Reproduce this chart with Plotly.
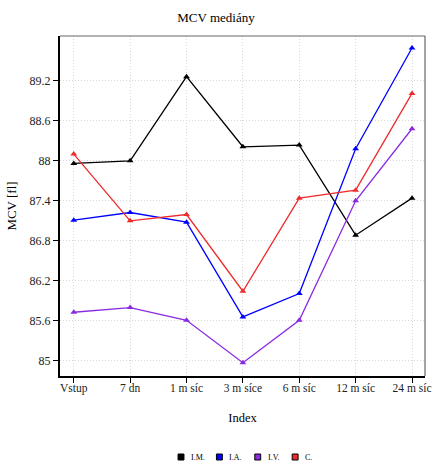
import plotly.graph_objects as go

categories = ["Vstup", "7 dn", "1 m síc", "3 m síce", "6 m síc", "12 m síc", "24 m síc"]
series_names = ["I.M.", "I.A.", "I.V.", "C."]
im_values = [87.96, 88.00, 89.26, 88.21, 88.235, 86.885, 87.44]
ia_values = [87.11, 87.225, 87.08, 85.66, 86.01, 88.18, 89.69]
iv_values = [85.73, 85.80, 85.61, 84.975, 85.61, 87.40, 88.48]
c_values = [88.10, 87.10, 87.195, 86.045, 87.44, 87.56, 89.01]
y_ticks = [85, 85.6, 86.2, 86.8, 87.4, 88, 88.6, 89.2]
y_tick_labels = ["85", "85.6", "86.2", "86.8", "87.4", "88", "88.6", "89.2"]

colors = ["#000000", "#0000FF", "#8A2BE2", "#EE2C2C"]
all_values = [im_values, ia_values, iv_values, c_values]

FONT = "Liberation Serif, DejaVu Serif, serif"
fig = go.Figure()
xs = list(range(len(categories)))
for name, vals, col in zip(series_names, all_values, colors):
    fig.add_trace(go.Scatter(
        x=xs, y=vals, mode="lines+markers", name=name,
        line=dict(color=col, width=1.3),
        marker=dict(symbol="triangle-up", size=6, color=col),
        showlegend=False,
    ))

# manual legend (squares + labels)
L, W, B, H = 60, 371, 90, 340
legend_px = [183, 222, 261, 299]
legend_py = 457
shapes = [
    dict(type="line", xref="paper", yref="paper", x0=0, x1=1, y0=1, y1=1,
         line=dict(color="#666666", width=1.2)),
    dict(type="line", xref="paper", yref="paper", x0=1, x1=1, y0=0, y1=1,
         line=dict(color="#666666", width=1.2)),
]
annotations = []
for name, col, px in zip(series_names, colors, legend_px):
    x0 = (px - 3 - L) / W
    x1 = (px + 3 - L) / W
    y0 = (376 - (legend_py + 3)) / H
    y1 = (376 - (legend_py - 3)) / H
    shapes.append(dict(type="rect", xref="paper", yref="paper", x0=x0, x1=x1, y0=y0, y1=y1,
                       fillcolor=col, line=dict(color="black", width=1)))
    annotations.append(dict(text=name, xref="paper", yref="paper",
                            x=(px + 8 - L) / W, y=(376 - legend_py) / H,
                            xanchor="left", yanchor="middle", showarrow=False,
                            font=dict(size=8, family=FONT, color="black")))

fig.update_layout(
    width=432, height=466,
    margin=dict(l=60, r=1, t=36, b=90),
    paper_bgcolor="white", plot_bgcolor="white",
    font=dict(family=FONT, color="#222222", size=11),
    title=dict(text="MCV mediány", x=0.5, xanchor="center", y=0.963, yanchor="middle",
               font=dict(size=13, family=FONT, color="black")),
    showlegend=False,
    shapes=shapes,
    annotations=annotations,
)
fig.update_xaxes(
    range=[-0.244, 6.23], tickmode="array", tickvals=xs, ticktext=categories,
    showgrid=True, gridcolor="#d8d8d8", griddash="1px,2px", gridwidth=1,
    showline=True, linecolor="black", linewidth=2,
    ticks="outside", ticklen=5, tickcolor="black",
    tickfont=dict(size=11.5, family=FONT, color="#222222"),
    ticklabeloverflow="allow", ticklabelstandoff=-5,
    title=dict(text="Index", font=dict(size=12.5, family=FONT, color="black"), standoff=19),
    zeroline=False,
)
fig.update_yaxes(
    range=[84.775, 89.87], tickmode="array", tickvals=y_ticks, ticktext=y_tick_labels,
    showgrid=True, gridcolor="#d8d8d8", griddash="1px,2px", gridwidth=1,
    showline=True, linecolor="black", linewidth=2,
    ticks="outside", ticklen=5, tickcolor="black",
    tickfont=dict(size=12, family=FONT, color="#222222"),
    title=dict(text="MCV [fl]", font=dict(size=13, family=FONT, color="black"), standoff=10),
    zeroline=False,
)
fig.write_html("out.html", config={"displayModeBar": False})
with open("out.html", encoding="utf-8") as f:
    html = f.read()
html = html.replace("<head>", "<head><style>html,body{margin:0;padding:0;}</style>", 1)
with open("out.html", "w", encoding="utf-8") as f:
    f.write(html)
